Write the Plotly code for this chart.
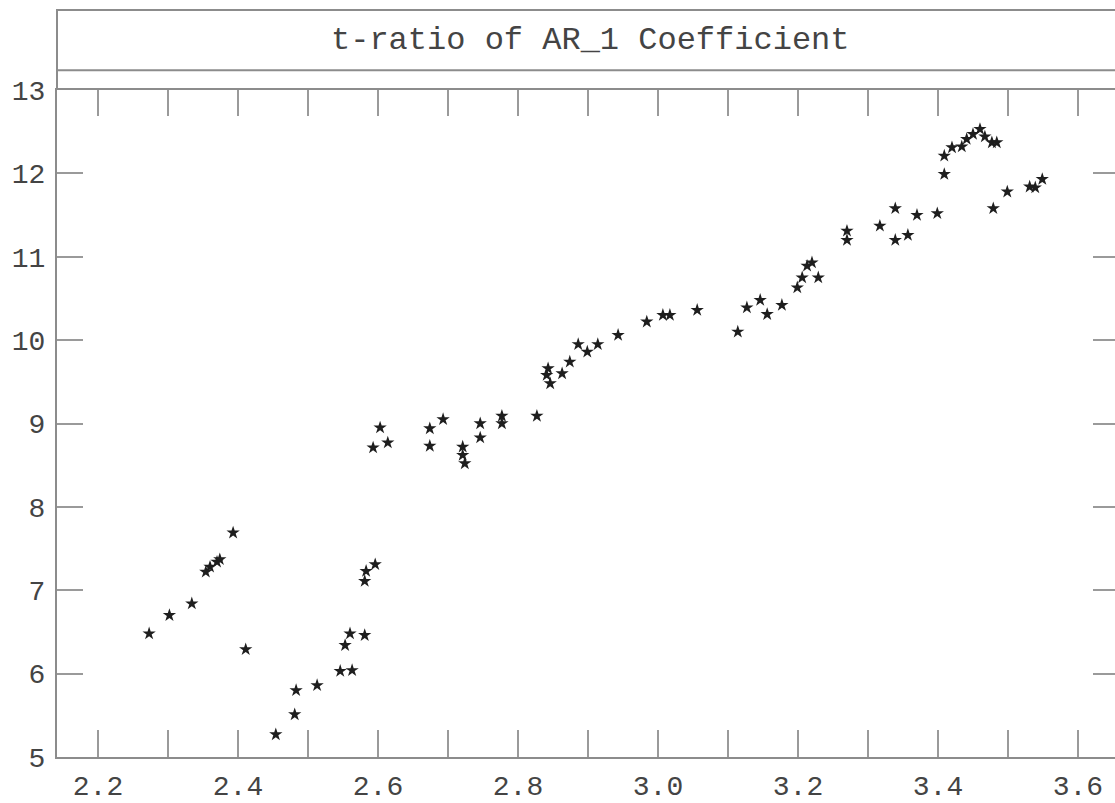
import plotly.graph_objects as go

# ---- data ----
x_vals = [
    2.273, 2.302, 2.334, 2.354, 2.360, 2.370, 2.374, 2.393, 2.411,
    2.454, 2.481, 2.483, 2.513, 2.546, 2.563, 2.553, 2.560, 2.581,
    2.581, 2.583, 2.596,
    2.593, 2.603, 2.614,
    2.674, 2.674, 2.693, 2.721, 2.721, 2.724, 2.746, 2.746, 2.777, 2.777, 2.827,
    2.841, 2.846, 2.843, 2.863, 2.874, 2.886, 2.899, 2.914, 2.943, 2.984,
    3.007, 3.017, 3.056, 3.114, 3.127, 3.146, 3.156, 3.177,
    3.199, 3.206, 3.213, 3.220, 3.229, 3.270, 3.270, 3.317, 3.339, 3.357,
    3.339, 3.370, 3.399,
    3.409, 3.409, 3.420, 3.434, 3.441, 3.450, 3.460, 3.467, 3.477, 3.484,
    3.479, 3.499, 3.531, 3.539, 3.549,
]
y_vals = [
    6.48, 6.70, 6.84, 7.22, 7.28, 7.34, 7.37, 7.69, 6.29,
    5.27, 5.51, 5.80, 5.86, 6.03, 6.04, 6.34, 6.48, 6.46,
    7.11, 7.23, 7.31,
    8.71, 8.95, 8.77,
    8.94, 8.73, 9.05, 8.72, 8.62, 8.52, 9.00, 8.83, 9.09, 9.00, 9.09,
    9.58, 9.48, 9.66, 9.60, 9.74, 9.95, 9.86, 9.95, 10.06, 10.22,
    10.30, 10.30, 10.36, 10.10, 10.39, 10.48, 10.31, 10.42,
    10.63, 10.75, 10.89, 10.93, 10.75, 11.31, 11.20, 11.37, 11.20, 11.26,
    11.58, 11.50, 11.52,
    11.99, 12.21, 12.31, 12.32, 12.41, 12.47, 12.53, 12.44, 12.37, 12.37,
    11.58, 11.78, 11.84, 11.83, 11.93,
]
title_text = "t-ratio of AR_1 Coefficient"
x_range = [2.1414, 3.6529]
y_range = [5, 13]

AX = "#8c8c8c"
TK = "#9a9a9a"
TXT = "#444444"
FONT = "Liberation Mono"

fig = go.Figure()
fig.add_trace(go.Scatter(
    x=x_vals, y=y_vals, mode="markers",
    marker=dict(symbol="star", size=10, color="#1e1e1e", line=dict(width=0)),
    showlegend=False, hoverinfo="skip",
))
# empty trace so the top / right tick axes exist
fig.add_trace(go.Scatter(x=[], y=[], xaxis="x2", yaxis="y2",
                         showlegend=False, hoverinfo="skip"))

fig.update_layout(
    width=1115, height=803,
    margin=dict(l=57, r=0, t=90, b=38),
    paper_bgcolor="white", plot_bgcolor="white",
    showlegend=False,
    xaxis=dict(
        range=x_range, tick0=2.2, dtick=0.2, tickformat=".1f",
        ticks="inside", ticklen=27, tickwidth=2, tickcolor=TK,
        showline=True, linecolor=AX, linewidth=2,
        showgrid=False, zeroline=False,
        tickfont=dict(family=FONT, size=28, color=TXT),
        ticklabelstandoff=2,
        minor=dict(tick0=2.2, dtick=0.1, ticks="inside", ticklen=27,
                   tickwidth=2, tickcolor=TK, showgrid=False),
    ),
    yaxis=dict(
        range=y_range, tick0=5, dtick=1,
        ticks="inside", ticklen=26, tickwidth=2, tickcolor=TK,
        showline=True, linecolor=AX, linewidth=2,
        showgrid=False, zeroline=False,
        tickfont=dict(family=FONT, size=28, color=TXT),
        ticklabelstandoff=4,
    ),
    xaxis2=dict(
        overlaying="x", side="top", range=x_range, tick0=2.2, dtick=0.1,
        ticks="inside", ticklen=26, tickwidth=2, tickcolor=TK,
        showline=True, linecolor=AX, linewidth=2,
        showgrid=False, zeroline=False, showticklabels=False,
    ),
    yaxis2=dict(
        overlaying="y", side="right", range=y_range, tick0=5, dtick=1,
        ticks="inside", ticklen=22, tickwidth=2, tickcolor=TK,
        showline=False, showgrid=False, zeroline=False, showticklabels=False,
    ),
    shapes=[
        dict(type="rect", xref="paper", yref="paper",
             x0=0, x1=1.01, y0=(765 - 70) / 675, y1=(765 - 9) / 675,
             line=dict(color=AX, width=2), fillcolor="rgba(0,0,0,0)"),
        dict(type="line", xref="paper", yref="paper",
             x0=0, x1=0, y0=1.0, y1=(765 - 70) / 675,
             line=dict(color=AX, width=2)),
    ],
    annotations=[
        dict(text=title_text, xref="paper", yref="paper",
             x=(590 - 57) / 1058, y=(765 - 40) / 675,
             xanchor="center", yanchor="middle", showarrow=False,
             font=dict(family=FONT, size=32, color=TXT)),
    ],
)

fig.write_html("out.html")
